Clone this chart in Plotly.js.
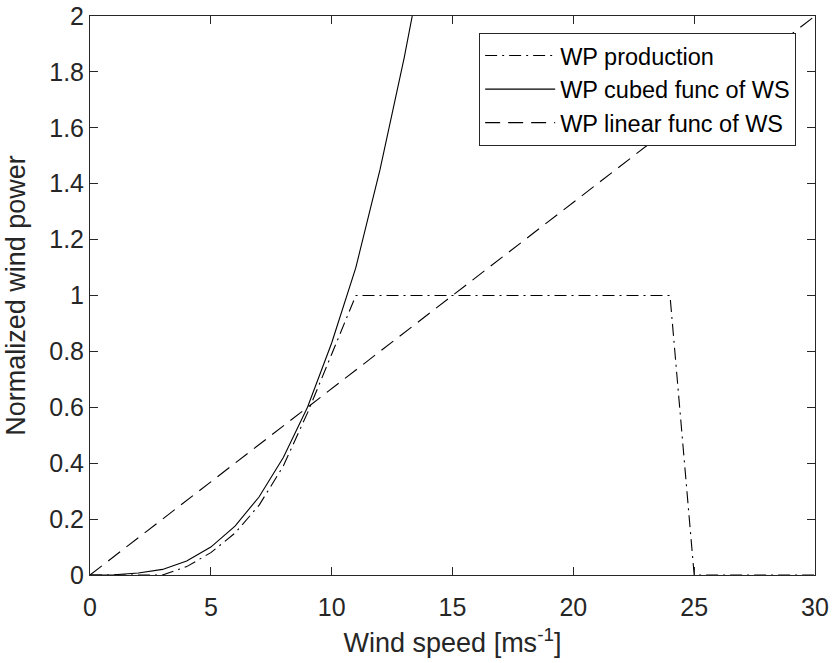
<!DOCTYPE html>
<html>
<head>
<meta charset="utf-8">
<script src="https://cdn.plot.ly/plotly-3.0.1.min.js"></script>
<style>
  html, body { margin: 0; padding: 0; background: #ffffff; }
  #chart { width: 832px; height: 663px; }
</style>
</head>
<body>
<div id="chart"></div>
<script>
// Wind speed values (m/s)
const wsProduction = [0,1,2,3,4,5,6,7,8,9,10,11,12,13,14,15,16,17,18,19,20,21,22,23,24,25,26,27,28,29,30];
const wpProduction = [0,0,0,0,0.03,0.08,0.15,0.25,0.39,0.58,0.79,1,1,1,1,1,1,1,1,1,1,1,1,1,1,0,0,0,0,0,0];

const wsCubed = [0,1,2,3,4,5,6,7,8,9,10,11,12,13,14];
const wpCubed = [0,0.001,0.007,0.02,0.05,0.1,0.175,0.28,0.42,0.6,0.83,1.1,1.45,1.85,2.3];

const wsLinear = [0,30];
const wpLinear = [0,2];

const seriesNames = ['WP production', 'WP cubed func of WS', 'WP linear func of WS'];
const xTicks = [0,5,10,15,20,25,30];
const yTicks = [0,0.2,0.4,0.6,0.8,1,1.2,1.4,1.6,1.8,2];

const axisColor = '#262626';
const fontFamily = 'Liberation Sans, Arial, Helvetica, sans-serif';

const traces = [
  {
    x: wsProduction, y: wpProduction, name: seriesNames[0],
    mode: 'lines', line: {color: '#000000', width: 1.1, dash: '12px,5px,2px,5px'}
  },
  {
    x: wsCubed, y: wpCubed, name: seriesNames[1],
    mode: 'lines', line: {color: '#000000', width: 1.1}
  },
  {
    x: wsLinear, y: wpLinear, name: seriesNames[2],
    mode: 'lines', line: {color: '#000000', width: 1.1, dash: '15px,8px'}
  }
];

const layout = {
  width: 832, height: 663,
  margin: {l: 90, r: 17, t: 16, b: 88},
  paper_bgcolor: '#ffffff', plot_bgcolor: '#ffffff',
  font: {family: fontFamily, size: 25, color: axisColor},
  showlegend: true,
  legend: {
    x: 0.974, y: 0.97, xanchor: 'right', yanchor: 'top',
    bgcolor: '#ffffff', bordercolor: axisColor, borderwidth: 1,
    font: {family: fontFamily, size: 23.5, color: '#000000'},
    itemwidth: 70, tracegroupgap: 0
  },
  xaxis: {
    range: [0, 30], tickvals: xTicks, ticktext: xTicks.map(String),
    ticks: 'inside', ticklen: 8, tickcolor: axisColor, tickwidth: 1,
    showline: true, linecolor: axisColor, linewidth: 1, mirror: 'ticks',
    showgrid: false, zeroline: false, ticklabelstandoff: 10,
    tickfont: {family: fontFamily, size: 25, color: axisColor},
    title: {text: 'Wind speed [ms<sup>-1</sup>]', font: {family: fontFamily, size: 27, color: axisColor}, standoff: 13}
  },
  yaxis: {
    range: [0, 2], tickvals: yTicks, ticktext: yTicks.map(String),
    ticks: 'inside', ticklen: 8, tickcolor: axisColor, tickwidth: 1,
    showline: true, linecolor: axisColor, linewidth: 1, mirror: 'ticks',
    showgrid: false, zeroline: false,
    tickfont: {family: fontFamily, size: 25, color: axisColor},
    title: {text: 'Normalized wind power', font: {family: fontFamily, size: 27, color: axisColor}, standoff: 15}
  }
};

Plotly.newPlot('chart', traces, layout, {displayModeBar: false, staticPlot: true});
</script>
</body>
</html>
